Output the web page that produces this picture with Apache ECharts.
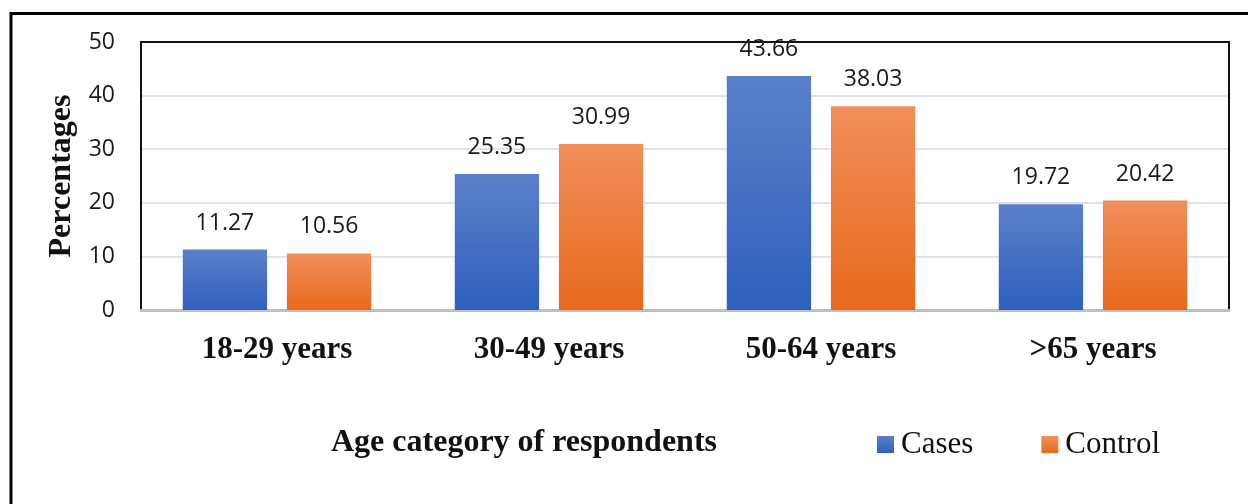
<!DOCTYPE html>
<html>
<head>
<meta charset="utf-8">
<script src="https://cdn.jsdelivr.net/npm/echarts@6/dist/echarts.min.js"></script>
<style>
  html, body { margin: 0; padding: 0; background: #fff; }
  #chart { width: 1248px; height: 504px; }
</style>
</head>
<body>
<div id="chart"></div>
<script>
// Age groups and percentages of respondents
const categories = ['18-29 years', '30-49 years', '50-64 years', '>65 years'];
const cases = [11.27, 25.35, 43.66, 19.72];
const control = [10.56, 30.99, 38.03, 20.42];
const seriesNames = ['Cases', 'Control'];
const yTitle = 'Percentages';
const xTitle = 'Age category of respondents';

const serif = '"Liberation Serif", "Times New Roman", serif';
const sans = '"Open Sans", sans-serif';

function grad(top, bottom) {
  return new echarts.graphic.LinearGradient(0, 0, 0, 1, [
    { offset: 0, color: top },
    { offset: 1, color: bottom }
  ]);
}

const chart = echarts.init(document.getElementById('chart'), null, { renderer: 'canvas' });

const valueLabel = {
  show: true,
  position: 'top',
  distance: 15,
  fontFamily: sans,
  fontSize: 23,
  color: '#1a1a1a'
};

chart.setOption({
  animation: false,
  backgroundColor: '#fff',
  grid: {
    left: 141, right: 19, top: 42, bottom: 194,
    show: true,
    borderColor: '#111',
    borderWidth: 2,
    containLabel: false
  },
  legend: {
    left: 872,
    top: 424,
    itemWidth: 17,
    itemHeight: 17,
    itemGap: 68,
    icon: 'rect',
    textStyle: { fontFamily: serif, fontSize: 31, color: '#111', padding: [0, 0, 0, 2] },
    data: seriesNames
  },
  xAxis: {
    type: 'category',
    data: categories,
    axisLine: { show: true, lineStyle: { color: '#bfbfbf', width: 3 } },
    axisTick: { show: false },
    axisLabel: {
      fontFamily: serif,
      fontWeight: 'bold',
      fontSize: 31,
      color: '#111',
      margin: 24
    }
  },
  yAxis: [
    {
      type: 'value',
      min: 0,
      max: 50,
      interval: 10,
      name: yTitle,
      nameLocation: 'middle',
      nameGap: 62,
      nameTextStyle: { fontFamily: serif, fontWeight: 'bold', fontSize: 32, color: '#111' },
      axisLine: { show: true, lineStyle: { color: '#111', width: 2 } },
      axisTick: { show: false },
      axisLabel: { fontFamily: sans, fontSize: 23, color: '#1a1a1a', margin: 26 },
      splitLine: { showMaxLine: false, lineStyle: { color: '#dfe4ea', width: 2 } }
    },
    {
      // right-hand frame edge of the plot
      type: 'value',
      position: 'right',
      min: 0,
      max: 50,
      interval: 10,
      axisLine: { show: true, lineStyle: { color: '#111', width: 2 } },
      axisTick: { show: false },
      axisLabel: { show: false },
      splitLine: { show: false }
    }
  ],
  series: [
    {
      name: seriesNames[0],
      type: 'bar',
      data: cases,
      barWidth: '31%',
      barGap: '23.5%',
      itemStyle: { color: grad('#5b80ca', '#2e60bd') },
      label: valueLabel
    },
    {
      name: seriesNames[1],
      type: 'bar',
      data: control,
      barWidth: '31%',
      itemStyle: { color: grad('#f18f5b', '#e8691c') },
      label: valueLabel
    }
  ],
  graphic: [
    {
      type: 'rect',
      silent: true,
      shape: { x: 11, y: 13.5, width: 2000, height: 2000 },
      style: { fill: 'none', stroke: '#000', lineWidth: 3 }
    },
    {
      type: 'text',
      left: 331,
      top: 427,
      style: { text: xTitle, fontFamily: serif, fontWeight: 'bold', fontSize: 32, fill: '#111' }
    }
  ]
});
</script>
</body>
</html>
